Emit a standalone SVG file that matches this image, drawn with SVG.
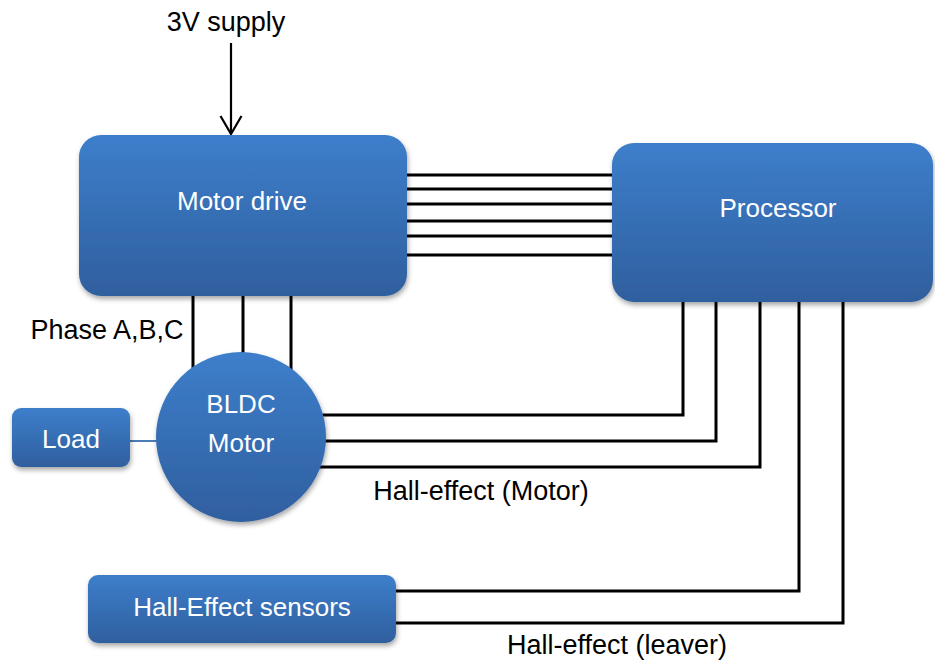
<svg xmlns="http://www.w3.org/2000/svg" width="935" height="662" viewBox="0 0 935 662">
<defs>
<linearGradient id="g" x1="0" y1="0" x2="0" y2="1">
<stop offset="0" stop-color="#3d7ecb"/>
<stop offset="1" stop-color="#2f5f9e"/>
</linearGradient>
<filter id="sh" x="-10%" y="-10%" width="125%" height="130%">
<feDropShadow dx="1" dy="3" stdDeviation="2.5" flood-color="#000" flood-opacity="0.35"/>
</filter>
<marker id="arr" viewBox="0 0 20 24" refX="19" refY="12" markerWidth="20" markerHeight="24" markerUnits="userSpaceOnUse" orient="auto">
<path d="M1,1.5 L19,12 L1,22.5" fill="none" stroke="#000" stroke-width="2.2"/>
</marker>
</defs>
<style>
.box{fill:url(#g);filter:url(#sh)}
.lbl{font-family:"Liberation Sans",Arial,sans-serif;font-size:26px;fill:#fff;text-anchor:middle}
.txt{font-family:"Liberation Sans",Arial,sans-serif;font-size:27px;fill:#000;text-anchor:middle}
.w{fill:none;stroke:#000;stroke-width:3}
</style>
<g id="connectors">
<line x1="231" y1="43" x2="231" y2="134" stroke="#000" stroke-width="2.2" marker-end="url(#arr)"/>
<path class="w" d="M400,175H615M400,189H615M400,204H615M400,221H615M400,236H615M400,255H615"/>
<path class="w" d="M193,290V375M243,290V360M291,290V375"/>
<path class="w" d="M300,415H683V296M300,441H716V296M300,467H760V296"/>
<path class="w" d="M380,591H799V296M380,623H843V296"/>
<line x1="125" y1="441" x2="165" y2="441" stroke="#4a7ebb" stroke-width="2"/>
</g>
<g id="motor-drive">
<rect class="box" x="79" y="135" width="328" height="161" rx="22"/>
<text class="lbl" x="242" y="210" font-size="28">Motor drive</text>
</g>
<g id="processor">
<rect class="box" x="612" y="143" width="321" height="159" rx="22"/>
<text class="lbl" x="778" y="217" font-size="27">Processor</text>
</g>
<g id="bldc-motor">
<circle class="box" cx="241" cy="437" r="85"/>
<text class="lbl" x="241" y="413" font-size="22">BLDC</text>
<text class="lbl" x="241" y="452" font-size="23">Motor</text>
</g>
<g id="load">
<rect class="box" x="12" y="408" width="118" height="59" rx="9"/>
<text class="lbl" x="71" y="448">Load</text>
</g>
<g id="hall-sensors">
<rect class="box" x="88" y="575" width="308" height="68" rx="10"/>
<text class="lbl" x="242" y="616" font-size="27">Hall-Effect sensors</text>
</g>
<g id="labels">
<text class="txt" x="226" y="31">3V supply</text>
<text class="txt" x="107" y="339" font-size="25">Phase A,B,C</text>
<text class="txt" x="481" y="500" font-size="28">Hall-effect (Motor)</text>
<text class="txt" x="617" y="654" font-size="28">Hall-effect (leaver)</text>
</g>
</svg>
